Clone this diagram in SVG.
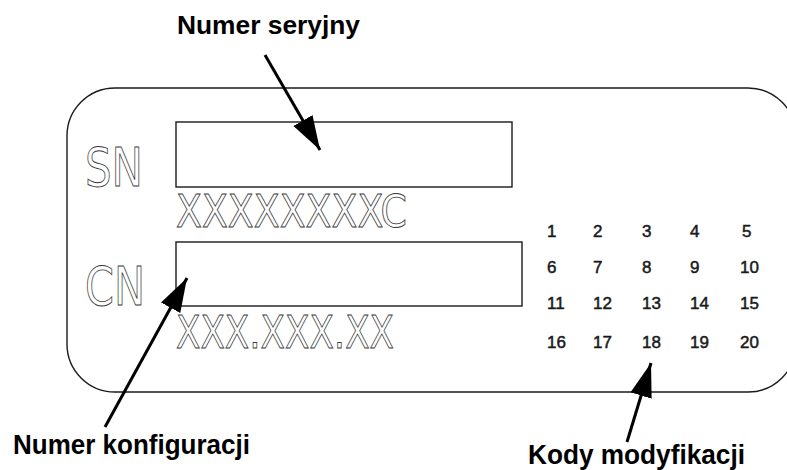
<svg xmlns="http://www.w3.org/2000/svg" width="787" height="470" viewBox="0 0 787 470">
  <style>
    .plate { fill: none; stroke: #1a1a1a; stroke-width: 1.4; }
    .field { fill: #fff; stroke: #1a1a1a; stroke-width: 1.4; }
    .engr { font-family: "DejaVu Sans", "Liberation Sans", sans-serif; fill: #fff; stroke: #3a3a3a; stroke-width: 0.9; }
    .num { font-family: "Liberation Sans", Arial, sans-serif; font-size: 17px; fill: #1a1a1a; stroke: #1a1a1a; stroke-width: 0.5; }
    .callout { font-family: "Liberation Sans", Arial, sans-serif; font-weight: bold; fill: #000; }
    .lead { stroke: #000; stroke-width: 3; fill: none; }
  </style>
  <defs>
    <marker id="head" markerUnits="userSpaceOnUse" markerWidth="40" markerHeight="26" refX="34" refY="12" orient="auto">
      <path d="M0,1 L34,12 L0,23 Z" fill="#000"/>
    </marker>
  </defs>

  <rect id="bg" x="0" y="0" width="787" height="470" fill="#fff"/>

  <!-- nameplate outline (runs off the right edge) -->
  <g id="plate">
    <rect class="plate" x="67" y="88" width="729" height="304" rx="48" ry="48"/>
  </g>

  <!-- serial number field -->
  <g id="sn">
    <text class="engr" x="85" y="186" font-size="53" textLength="58" lengthAdjust="spacingAndGlyphs">SN</text>
    <rect class="field" x="176" y="122" width="336" height="65"/>
    <text class="engr" x="176" y="227" font-size="44" textLength="231" lengthAdjust="spacingAndGlyphs">XXXXXXXXC</text>
  </g>

  <!-- configuration number field -->
  <g id="cn">
    <text class="engr" x="85" y="305" font-size="53" textLength="60" lengthAdjust="spacingAndGlyphs">CN</text>
    <rect class="field" x="176" y="242" width="346" height="64"/>
    <text class="engr" x="176" y="348" font-size="45" textLength="218" lengthAdjust="spacingAndGlyphs">XXX.XXX.XX</text>
  </g>

  <!-- modification code grid -->
  <g id="codes">
    <text class="num" x="547" y="237">1</text>
    <text class="num" x="593" y="237">2</text>
    <text class="num" x="642" y="237">3</text>
    <text class="num" x="690" y="237">4</text>
    <text class="num" x="742" y="237">5</text>
    <text class="num" x="547" y="273">6</text>
    <text class="num" x="593" y="273">7</text>
    <text class="num" x="642" y="273">8</text>
    <text class="num" x="690" y="273">9</text>
    <text class="num" x="740" y="273">10</text>
    <text class="num" x="547" y="309">11</text>
    <text class="num" x="593" y="309">12</text>
    <text class="num" x="642" y="309">13</text>
    <text class="num" x="690" y="309">14</text>
    <text class="num" x="740" y="309">15</text>
    <text class="num" x="547" y="348">16</text>
    <text class="num" x="593" y="348">17</text>
    <text class="num" x="642" y="348">18</text>
    <text class="num" x="690" y="348">19</text>
    <text class="num" x="740" y="348">20</text>
  </g>

  <!-- callout labels -->
  <g id="label-serial">
    <text class="callout" x="177" y="34" font-size="25" textLength="183" lengthAdjust="spacingAndGlyphs">Numer seryjny</text>
  </g>
  <g id="label-config">
    <text class="callout" x="13" y="454" font-size="27" textLength="237" lengthAdjust="spacingAndGlyphs">Numer konfiguracji</text>
  </g>
  <g id="label-mods">
    <text class="callout" x="528" y="464" font-size="27" textLength="217" lengthAdjust="spacingAndGlyphs">Kody modyfikacji</text>
  </g>

  <!-- leader arrows -->
  <g id="connectors">
    <line class="lead" x1="265" y1="55" x2="320" y2="150" marker-end="url(#head)"/>
    <line class="lead" x1="105" y1="427" x2="187" y2="278" marker-end="url(#head)"/>
    <line class="lead" x1="627" y1="442" x2="651" y2="363" marker-end="url(#head)"/>
  </g>
</svg>
